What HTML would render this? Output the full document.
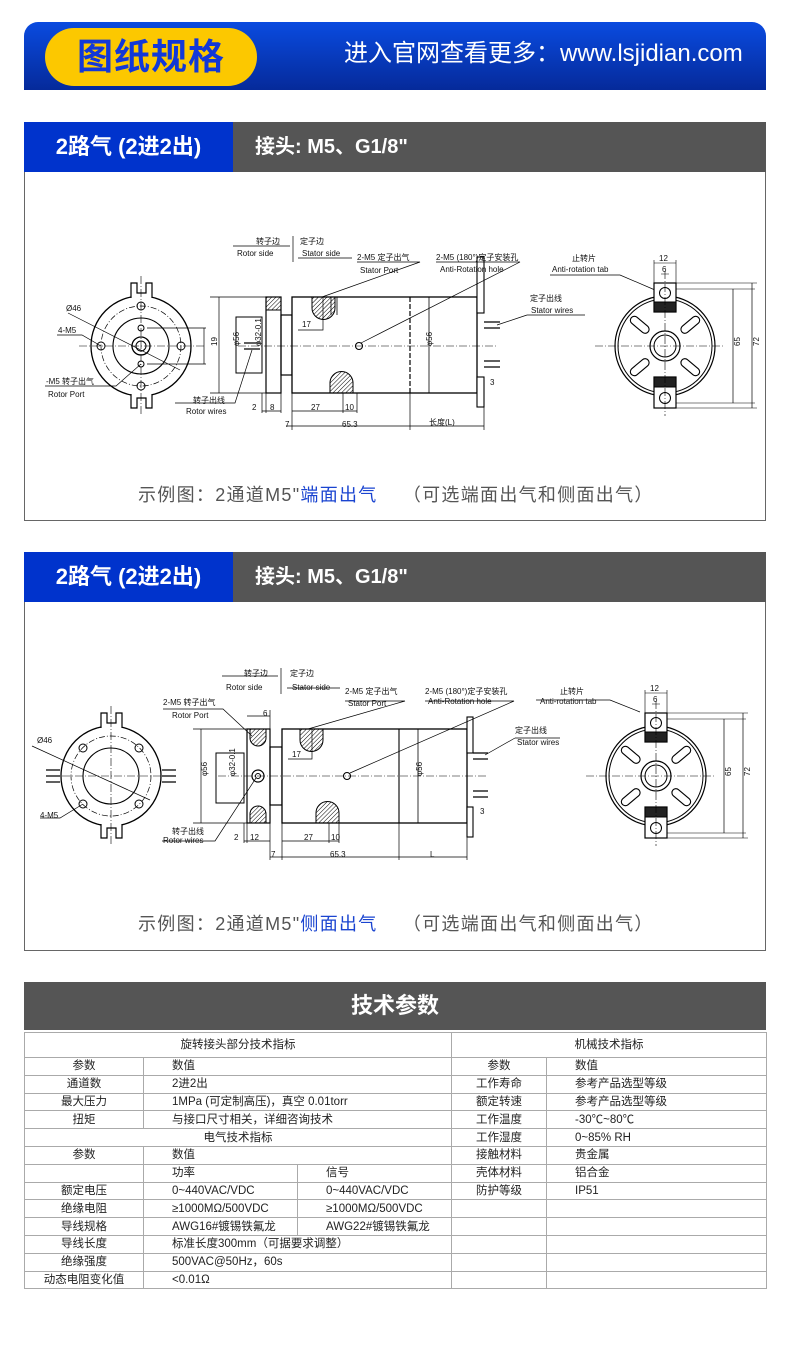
<!DOCTYPE html>
<html><head><meta charset="utf-8"><style>
*{margin:0;padding:0;box-sizing:border-box}
body{width:790px;height:1350px;background:#fff;position:relative;font-family:"Liberation Sans","Noto Sans CJK SC",sans-serif;overflow:hidden}
.abs{position:absolute}
.banner{left:24px;top:22px;width:742px;height:68px;border-radius:14px 14px 0 0;background:linear-gradient(#0a4be0,#052a9a)}
.pill{left:45px;top:28px;width:212px;height:58px;border-radius:29px;background:#fcc800;color:#1238d8;font-size:36px;font-weight:bold;text-align:center;line-height:58px;letter-spacing:1px}
.site{left:344px;top:38px;color:#fff;font-size:24px;line-height:32px;white-space:nowrap}
.hb{left:24px;width:209px;height:50px;background:#0033cc;color:#fff;font-size:22px;font-weight:bold;line-height:50px;text-align:center}
.hg{left:233px;width:533px;height:50px;background:#555;color:#fff;font-size:20px;font-weight:bold;line-height:50px;padding-left:22px}
.panel{left:24px;width:742px;height:349px;border:1px solid #666;border-top:none}
.cap{left:138px;font-size:18px;letter-spacing:1.3px;color:#555;white-space:pre}
.cap b{color:#1a44d0;font-weight:normal}
.th{left:24px;top:982px;width:742px;height:48px;background:#555;color:#fff;font-size:22px;font-weight:bold;text-align:center;line-height:48px}
table{position:absolute;left:24px;top:1032px;border-collapse:collapse;font-size:11.5px;color:#222}
td{border:1px solid #aaa;height:17.8px;padding:0;line-height:16px}
.c{text-align:center}.l{padding-left:28px}
svg text{font-family:"Liberation Sans","Noto Sans CJK SC",sans-serif;font-size:8px;fill:#111;stroke:none}
</style></head><body>
<div class="abs banner"></div>
<div class="abs pill">图纸规格</div>
<div class="abs site">进入官网查看更多：www.lsjidian.com</div>

<div class="abs hb" style="top:122px">2路气 (2进2出)</div>
<div class="abs hg" style="top:122px">接头: M5、G1/8"</div>
<div class="abs panel" style="top:172px"></div>
<div class="abs cap" style="top:481px">示例图：2通道M5"<b>端面出气</b>    （可选端面出气和侧面出气）</div>

<div class="abs hb" style="top:552px">2路气 (2进2出)</div>
<div class="abs hg" style="top:552px">接头: M5、G1/8"</div>
<div class="abs panel" style="top:602px"></div>
<div class="abs cap" style="top:910px">示例图：2通道M5"<b>侧面出气</b>    （可选端面出气和侧面出气）</div>

<svg class="abs" style="left:0;top:0" width="790" height="980" viewBox="0 0 790 980">
<defs>
<pattern id="h" width="3" height="3" patternUnits="userSpaceOnUse" patternTransform="rotate(45)"><line x1="0" y1="0" x2="0" y2="3" stroke="#000" stroke-width="1"/></pattern>
<g id="front">
<circle cx="0" cy="0" r="50" fill="#fff" stroke="#000" stroke-width="1.3"/>
<circle r="40" fill="none" stroke="#000" stroke-width=".7" stroke-dasharray="6 2 1 2"/>
<circle r="28" fill="none" stroke="#000" stroke-width="1.1"/>
<path d="M-10,-48V-63H-4V-53H5V-63H11V-48M-10,48V62H-4V52H5V62H11V48" fill="#fff" stroke="#000" stroke-width="1.2"/>
<line x1="-62" y1="0" x2="64" y2="0" stroke="#000" stroke-width=".6" stroke-dasharray="8 2 1 2"/>
<line x1="0" y1="-70" x2="0" y2="70" stroke="#000" stroke-width=".6" stroke-dasharray="8 2 1 2"/>
</g>
<g id="rightv">
<circle r="50" fill="#fff" stroke="#000" stroke-width="1.2"/>
<circle r="47" fill="none" stroke="#000" stroke-width="1"/>
<circle r="15" fill="none" stroke="#000" stroke-width="1.2"/>
<circle r="11" fill="none" stroke="#000" stroke-width="1"/>
<g fill="none" stroke="#000" stroke-width="1.1">
<rect x="-4" y="-17" width="8" height="22" rx="4" transform="rotate(50) translate(0,-27)"/>
<rect x="-4" y="-17" width="8" height="22" rx="4" transform="rotate(130) translate(0,-27)"/>
<rect x="-4" y="-17" width="8" height="22" rx="4" transform="rotate(230) translate(0,-27)"/>
<rect x="-4" y="-17" width="8" height="22" rx="4" transform="rotate(310) translate(0,-27)"/>
</g>
<rect x="-11" y="-63" width="22" height="29" fill="#fff" stroke="#000" stroke-width="1.2"/>
<rect x="-11" y="-44" width="22" height="10" fill="#222"/>
<circle cy="-53" r="5.5" fill="#fff" stroke="#000"/>
<rect x="-11" y="31" width="22" height="31" fill="#fff" stroke="#000" stroke-width="1.2"/>
<rect x="-11" y="31" width="22" height="10" fill="#222"/>
<circle cy="52" r="5.5" fill="#fff" stroke="#000"/>
<line x1="-70" y1="0" x2="58" y2="0" stroke="#000" stroke-width=".6" stroke-dasharray="8 2 1 2"/>
<line x1="0" y1="-75" x2="0" y2="70" stroke="#000" stroke-width=".6" stroke-dasharray="8 2 1 2"/>
<path d="M11,-57H90M11,57H90M11,-63H92M11,62H92" stroke="#000" stroke-width=".6"/>
<path d="M68,-57V57M87,-63V62" stroke="#000" stroke-width=".7"/>
<text x="71" y="4" transform="rotate(-90 71 0)" font-size="9">65</text>
<text x="90" y="4" transform="rotate(-90 90 0)" font-size="9">72</text>
<path d="M-11,-63V-86M11,-63V-86M-11,-83H11M-4,-72H4" stroke="#000" stroke-width=".6"/>
<text x="-6" y="-85" font-size="9">12</text><text x="-3" y="-74" font-size="9">6</text>
</g>
</defs>

<!-- ===== Drawing 1 ===== -->
<g stroke="#000" fill="none">
<use href="#front" x="141" y="346"/>
<g stroke-width="1">
<circle cx="141" cy="306" r="4"/><circle cx="141" cy="386" r="4"/><circle cx="101" cy="346" r="4"/><circle cx="181" cy="346" r="4"/>
<circle cx="141" cy="328" r="3"/><circle cx="141" cy="364" r="3"/>
<circle cx="141" cy="346" r="9" stroke-width="1.3"/><circle cx="141" cy="346" r="5"/>
</g>
<path d="M68,313L180,370M57,335H82L101,346M45,386H116L141,364M147,328H206M147,364H206M204,328V364" stroke-width=".7"/>
<path d="M219,297V393M210,297H266M210,393H266" stroke-width=".7"/>
<rect x="236" y="317" width="26" height="56" stroke-width="1"/>
<rect x="266" y="297" width="15" height="96" fill="#fff" stroke-width="1.2"/>
<rect x="266" y="297" width="15" height="13" fill="url(#h)" stroke-width="1"/>
<rect x="281" y="315" width="11" height="60" stroke-width="1.2"/>
<rect x="292" y="297" width="185" height="96" fill="#fff" stroke-width="1.3"/>
<path d="M312,297V308A11,11 0 0 0 335,308V297Z" fill="url(#h)"/>
<path d="M331,297V315M337,297V315" stroke-width=".8"/>
<path d="M330,393V383A11,11 0 0 1 353,383V393Z" fill="url(#h)"/>
<line x1="410" y1="297" x2="410" y2="393" stroke-dasharray="5 2" stroke-width="1.2"/>
<line x1="429" y1="297" x2="429" y2="393" stroke-width=".8"/>
<rect x="477" y="257" width="7" height="56" fill="#fff" stroke-width="1.1"/>
<rect x="477" y="377" width="7" height="30" fill="#fff" stroke-width="1.1"/>
<circle cx="359" cy="346" r="3.5" stroke-width="1.1"/>
<path d="M244,343H260M244,349H260M484,322H500M484,328H500M484,361H500M484,367H500" stroke-width="1.3"/>
<line x1="238" y1="346" x2="496" y2="346" stroke-width=".6" stroke-dasharray="8 2 1 2"/>
<path d="M262,393V413M266,393V413M281,393V413M292,393V430M343,393V413M357,393V413M410,393V430M484,393V430M262,411H281M292,411H357M286,426H484M298,330H323V297" stroke-width=".7"/>
<path d="M233,246H290M293,236V262M298,258H352M357,262H420L322,297M436,262H520L361,343M527,315H585M527,315L497,325M550,275H620L655,290M175,403H235L252,350" stroke-width=".7"/>
<use href="#rightv" x="665" y="346"/>
</g>
<g font-size="9">
<text x="66" y="311" font-size="9">Ø46</text>
<text x="58" y="333">4-M5</text>
<text x="46" y="384">-M5 转子出气</text>
<text x="48" y="397">Rotor Port</text>
<text x="213" y="350" transform="rotate(-90 213 346)" font-size="9">19</text>
<text x="230" y="355" transform="rotate(-90 230 346)" font-size="9">φ56</text>
<text x="247" y="360" transform="rotate(-90 247 346)" font-size="8">φ32-0.1</text>
<text x="426" y="352" transform="rotate(-90 426 346)" font-size="9">φ56</text>
<text x="256" y="244">转子边</text><text x="237" y="256" font-size="9">Rotor side</text>
<text x="300" y="244">定子边</text><text x="302" y="256" font-size="9">Stator side</text>
<text x="357" y="260">2-M5 定子出气</text><text x="360" y="273">Stator Port</text>
<text x="436" y="260">2-M5 (180°)定子安装孔</text><text x="440" y="272">Anti-Rotation hole</text>
<text x="530" y="301">定子出线</text><text x="531" y="313">Stator wires</text>
<text x="572" y="261">止转片</text><text x="552" y="272">Anti-rotation tab</text>
<text x="193" y="403" font-size="7">转子出线</text><text x="186" y="414">Rotor wires</text>
<text x="252" y="410" font-size="10">2</text><text x="270" y="410" font-size="10">8</text>
<text x="311" y="410" font-size="10">27</text><text x="345" y="410" font-size="10">10</text>
<text x="285" y="427" font-size="10">7</text><text x="342" y="427" font-size="10">65.3</text><text x="429" y="425" font-size="10">长度(L)</text>
<text x="302" y="327" font-size="10">17</text><text x="490" y="385" font-size="10">3</text>
</g>

<!-- ===== Drawing 2 ===== -->
<g stroke="#000" fill="none">
<use href="#front" x="111" y="776"/>
<g stroke-width="1">
<circle cx="83" cy="748" r="4"/><circle cx="139" cy="748" r="4"/><circle cx="83" cy="804" r="4"/><circle cx="139" cy="804" r="4"/>
</g>
<path d="M46,770H60M46,776H60M46,782H60M162,770H176M162,776H176M162,782H176" stroke-width="1.3"/>
<path d="M32,746L150,800M40,818H60L83,804" stroke-width=".7"/>
<path d="M201,729V823M193,729H247M193,823H247" stroke-width=".7"/>
<rect x="216" y="753" width="28" height="50" stroke-width="1"/>
<rect x="247" y="729" width="23" height="94" fill="#fff" stroke-width="1.2"/>
<path d="M250,729V738A8,8 0 0 0 266,738V729Z" fill="url(#h)"/>
<path d="M250,823V814A8,8 0 0 1 266,814V823Z" fill="url(#h)"/>
<circle cx="258" cy="776" r="6" stroke-width="1.2"/><circle cx="258" cy="776" r="2.5"/>
<rect x="270" y="747" width="12" height="58" stroke-width="1.2"/>
<rect x="282" y="729" width="185" height="94" fill="#fff" stroke-width="1.3"/>
<path d="M300,729V740A11,11 0 0 0 323,740V729Z" fill="url(#h)"/>
<path d="M316,823V813A11,11 0 0 1 339,813V823Z" fill="url(#h)"/>
<line x1="399" y1="729" x2="399" y2="823" stroke-width="1.1"/>
<line x1="418" y1="729" x2="418" y2="823" stroke-width=".8"/>
<rect x="467" y="717" width="6" height="36" fill="#fff" stroke-width="1.1"/>
<rect x="467" y="807" width="6" height="30" fill="#fff" stroke-width="1.1"/>
<circle cx="347" cy="776" r="3.5" stroke-width="1.1"/>
<path d="M473,753H488M473,759H488M473,791H488M473,797H488" stroke-width="1.3"/>
<line x1="218" y1="776" x2="486" y2="776" stroke-width=".6" stroke-dasharray="8 2 1 2"/>
<path d="M244,823V843M247,823V843M270,823V860M282,823V860M329,823V843M339,823V843M399,823V860M467,823V860M244,841H270M282,841H339M270,857H467M288,759H312V729M247,716H270M270,710V729" stroke-width=".7"/>
<path d="M222,676H278M281,668V694M287,688H340M163,709H223L252,736M345,701H405L308,729M425,701H514L350,773M515,738H560M515,738L485,755M536,700H610L640,712M162,841H215L256,778" stroke-width=".7"/>
<use href="#rightv" x="656" y="776"/>
</g>
<g font-size="9">
<text x="37" y="743">Ø46</text><text x="40" y="818">4-M5</text>
<text x="200" y="783" transform="rotate(-90 200 776)">φ56</text>
<text x="221" y="790" transform="rotate(-90 221 776)" font-size="8">φ32-0.1</text>
<text x="416" y="782" transform="rotate(-90 416 776)">φ56</text>
<text x="244" y="676">转子边</text><text x="226" y="690">Rotor side</text>
<text x="290" y="676">定子边</text><text x="292" y="690">Stator side</text>
<text x="163" y="705">2-M5 转子出气</text><text x="172" y="718">Rotor Port</text>
<text x="345" y="694">2-M5 定子出气</text><text x="348" y="706">Stator Port</text>
<text x="425" y="694">2-M5 (180°)定子安装孔</text><text x="428" y="704">Anti-Rotation hole</text>
<text x="515" y="733">定子出线</text><text x="517" y="745">Stator wires</text>
<text x="560" y="694">止转片</text><text x="540" y="704">Anti-rotation tab</text>
<text x="172" y="834" font-size="7">转子出线</text><text x="163" y="843">Rotor wires</text>
<text x="263" y="716" font-size="10">6</text>
<text x="234" y="840" font-size="10">2</text><text x="250" y="840" font-size="10">12</text>
<text x="304" y="840" font-size="10">27</text><text x="331" y="840" font-size="10">10</text>
<text x="271" y="857" font-size="10">7</text><text x="330" y="857" font-size="10">65.3</text><text x="430" y="857" font-size="10">L</text>
<text x="292" y="757" font-size="10">17</text><text x="480" y="814" font-size="10">3</text>
</g>
</svg>

<div class="abs th">技术参数</div>
<table>
<tr><td class="c" colspan="3" style="width:427px;height:25px">旋转接头部分技术指标</td><td class="c" colspan="2" style="width:315px">机械技术指标</td></tr>
<tr><td class="c" style="width:119px">参数</td><td class="l" colspan="2">数值</td><td class="c" style="width:95px">参数</td><td class="l">数值</td></tr>
<tr><td class="c">通道数</td><td class="l" colspan="2">2进2出</td><td class="c">工作寿命</td><td class="l">参考产品选型等级</td></tr>
<tr><td class="c">最大压力</td><td class="l" colspan="2">1MPa (可定制高压)，真空 0.01torr</td><td class="c">额定转速</td><td class="l">参考产品选型等级</td></tr>
<tr><td class="c">扭矩</td><td class="l" colspan="2">与接口尺寸相关，详细咨询技术</td><td class="c">工作温度</td><td class="l">-30℃~80℃</td></tr>
<tr><td class="c" colspan="3">电气技术指标</td><td class="c">工作湿度</td><td class="l">0~85% RH</td></tr>
<tr><td class="c">参数</td><td class="l" colspan="2">数值</td><td class="c">接触材料</td><td class="l">贵金属</td></tr>
<tr><td></td><td class="l" style="width:154px">功率</td><td class="l">信号</td><td class="c">壳体材料</td><td class="l">铝合金</td></tr>
<tr><td class="c">额定电压</td><td class="l">0~440VAC/VDC</td><td class="l">0~440VAC/VDC</td><td class="c">防护等级</td><td class="l">IP51</td></tr>
<tr><td class="c">绝缘电阻</td><td class="l">≥1000MΩ/500VDC</td><td class="l">≥1000MΩ/500VDC</td><td></td><td></td></tr>
<tr><td class="c">导线规格</td><td class="l">AWG16#镀锡铁氟龙</td><td class="l">AWG22#镀锡铁氟龙</td><td></td><td></td></tr>
<tr><td class="c">导线长度</td><td class="l" colspan="2">标准长度300mm（可据要求调整）</td><td></td><td></td></tr>
<tr><td class="c">绝缘强度</td><td class="l" colspan="2">500VAC@50Hz，60s</td><td></td><td></td></tr>
<tr><td class="c">动态电阻变化值</td><td class="l" colspan="2">&lt;0.01Ω</td><td></td><td></td></tr>
</table>
</body></html>
